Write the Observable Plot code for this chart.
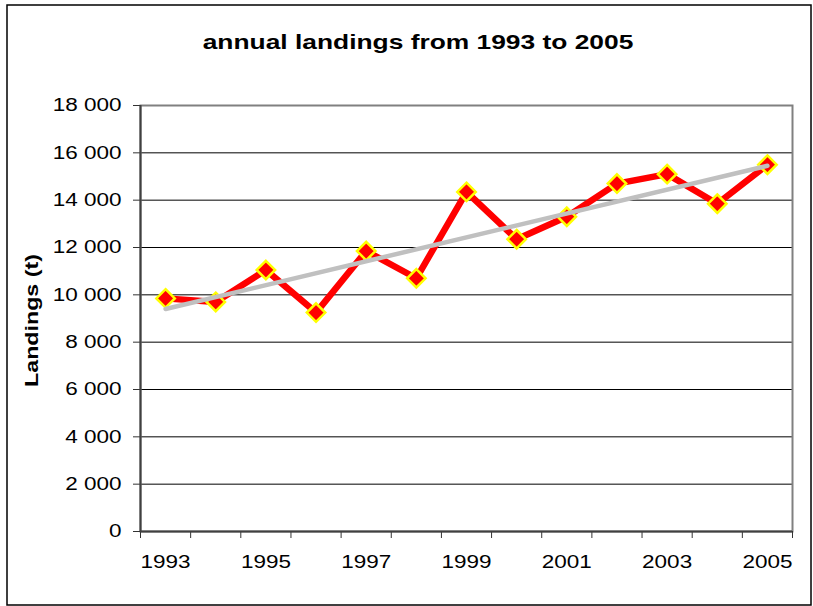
<!DOCTYPE html>
<html>
<head>
<meta charset="utf-8">
<script src="https://cdn.jsdelivr.net/npm/d3@7"></script>
<script src="https://cdn.jsdelivr.net/npm/@observablehq/plot@0.6"></script>
<style>
  html, body { margin: 0; padding: 0; background: #fff; }
  svg { display: block; }
</style>
</head>
<body>
<div id="chart"></div>
<script>
const titleText = "annual landings from 1993 to 2005";
const yLabelText = "Landings (t)";
const years = [1993, 1994, 1995, 1996, 1997, 1998, 1999, 2000, 2001, 2002, 2003, 2004, 2005];
const landings = [9850, 9700, 11050, 9250, 11850, 10700, 14350, 12350, 13300, 14700, 15100, 13850, 15500];
const yTicks = [0, 2000, 4000, 6000, 8000, 10000, 12000, 14000, 16000, 18000];
const xLabelYears = [1993, 1995, 1997, 1999, 2001, 2003, 2005];

const data = years.map((year, i) => ({year, value: landings[i]}));
const catBounds = d3.range(years[0] - 0.5, years[years.length - 1] + 1, 1);
const gridValues = yTicks.filter(v => v > 0 && v < 18000);
const fmt = d => d3.format(",")(d).replace(/,/g, " ");

const FONT = "'Liberation Sans', Arial, sans-serif";

const chart = Plot.plot({
  width: 813,
  height: 606,
  marginLeft: 140,
  marginRight: 21,
  marginTop: 105,
  marginBottom: 75,
  style: {fontFamily: FONT, background: "#fff", overflow: "visible"},
  x: {type: "linear", domain: [years[0] - 0.5, years[years.length - 1] + 0.5]},
  y: {domain: [0, 18000]},
  marks: [
    Plot.ruleY(gridValues, {stroke: "#000", strokeWidth: 1}),
    Plot.frame({stroke: "#808080", strokeWidth: 2}),
    Plot.axisY(yTicks, {
      tickSize: 7, tickPadding: 12, tickFormat: fmt, fontSize: 18,
      stroke: "#333", fill: "#000", label: null
    }),
    Plot.axisX(catBounds, {
      tickSize: 7, tickFormat: () => "", stroke: "#333", label: null
    }),
    Plot.axisX(xLabelYears, {
      tickSize: 0, tickPadding: 24, tickFormat: d => String(d), fontSize: 18,
      fill: "#000", label: null
    }),
    Plot.ruleX([years[0] - 0.5], {stroke: "#404040", strokeWidth: 2}),
    Plot.ruleY([0], {stroke: "#404040", strokeWidth: 2}),
    Plot.line(data, {x: "year", y: "value", stroke: "#FF0000", strokeWidth: 6.5, strokeLinejoin: "miter"}),
    Plot.dot(data, {x: "year", y: "value", symbol: "diamond2", r: 8.3, fill: "#FF0000", stroke: "#FFFF00", strokeWidth: 2.5}),
    Plot.linearRegressionY(data, {x: "year", y: "value", ci: 0, stroke: "#C0C0C0", strokeWidth: 4.5}),
    Plot.text([titleText], {
      frameAnchor: "top", dx: -48.5, dy: -57, lineAnchor: "bottom",
      fontSize: 20, fontWeight: "bold", fill: "#000"
    }),
    Plot.text([yLabelText], {
      frameAnchor: "left", dx: -109, dy: 2, rotate: -90, lineAnchor: "middle",
      textAnchor: "middle", fontSize: 19, fontWeight: "bold", fill: "#000"
    })
  ]
});

document.getElementById("chart").appendChild(chart);

// outer chart border
d3.select(chart).insert("rect", ":first-child")
  .attr("x", 7).attr("y", 5).attr("width", 804).attr("height", 600)
  .attr("fill", "none").attr("stroke", "#000").attr("stroke-width", 1.5);

// horizontally widen glyphs to match the reference rendering
chart.querySelectorAll("text").forEach(t => {
  const s = t.textContent;
  if (!s) return;
  const bb = t.getBBox();
  if (!bb.width) return;
  let k;
  if (s === titleText) k = 431 / bb.width;
  else if (s === yLabelText) k = 133 / bb.width;
  else k = 1.25;
  const anchor = getComputedStyle(t).textAnchor;
  const ax = anchor === "end" ? bb.x + bb.width : anchor === "middle" ? bb.x + bb.width / 2 : bb.x;
  const prev = t.getAttribute("transform") || "";
  t.setAttribute("transform", `${prev} translate(${ax},0) scale(${k},1) translate(${-ax},0)`);
});
</script>
</body>
</html>
